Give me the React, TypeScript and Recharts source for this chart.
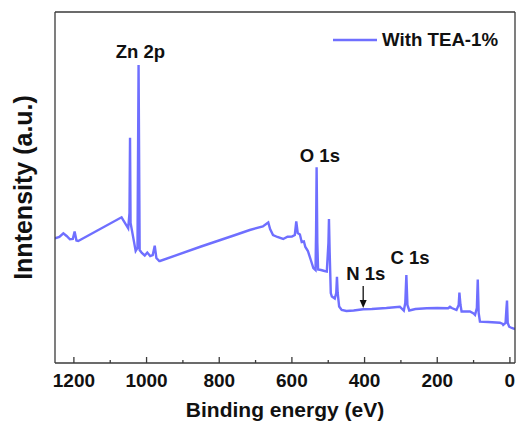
import React from 'react';
import { LineChart, Line, XAxis, YAxis, Legend, ReferenceDot } from 'recharts';

// Binding energy (eV) and intensity (a.u.)
const energy = [
  1252, 1240, 1229, 1220, 1211, 1203, 1198, 1193, 1188, 1068.8, 1050.6, 1047, 1045.5, 1044,
  1030, 1025, 1022, 1019, 1013, 1005, 998, 990, 983, 977.5, 973, 965, 963, 850, 760, 716,
  680, 668, 665, 660, 652, 640, 624, 612, 600, 592, 588, 584, 578, 573, 567, 563, 556, 548,
  541, 535, 533.5, 532, 530, 528, 520, 510, 504, 499.5, 498, 496, 493, 490, 482, 478, 476,
  474, 470, 463, 450, 430, 404, 380, 340, 303, 292, 288, 285, 282, 277, 260, 229, 200, 170,
  165, 160, 147, 141, 139, 136, 133, 110, 100, 96, 91, 88.5, 86, 82.5, 60, 27.5, 20, 18.4,
  12, 9.5, 8, 6, 2, -5, -14,
];
const intensity = [
  124.7, 126, 129.7, 127, 123.7, 124, 131.5, 122.5, 122, 145.7, 134.7, 150, 225.3, 140,
  112, 115, 298, 113, 110, 107.5, 110.5, 107, 108, 117.3, 105, 102, 102, 116.5, 127.5, 133,
  136.5, 139.7, 140.5, 134, 128, 126, 124, 126.3, 126.5, 128, 141.5, 130, 128.5, 121, 121.5, 116, 112, 103,
  95, 93, 130, 195.7, 120, 93.5, 93, 92, 91.5, 120, 144, 110, 70, 66.5, 64.5, 70, 86.3,
  70, 56.5, 53, 52, 52.5, 53.8, 54, 55, 56.3, 52.5, 60, 88, 58, 52.5, 54, 54.7, 55, 54.8,
  56.3, 55, 53, 58, 70.5, 58, 51.5, 51.5, 49.5, 48, 55, 83.5, 50, 41.3, 41, 40.3, 39, 38,
  40, 55, 62.5, 40, 36.3, 35, 34,
];

const majorTicks = [1200, 1000, 800, 600, 400, 200, 0];
const minorTicks = [1100, 900, 700, 500, 300, 100];
const allTicks = [...majorTicks, ...minorTicks].sort((a, b) => b - a);

const annotations = [
  { text: 'Zn 2p', energy: 1017, intensity: 304.7 },
  { text: 'O 1s', energy: 523, intensity: 201.3 },
  { text: 'N 1s', energy: 396.4, intensity: 83 },
  { text: 'C 1s', energy: 275, intensity: 99 },
];
const arrowTip = { energy: 403.8, intensity: 55 };

const seriesName = 'With TEA-1%';
const xLabel = 'Binding energy (eV)';
const yLabel = 'Inntensity (a.u.)';

const xDomain = [-14, 1252];
const yDomain = [0, 351];

const data = energy.map((e, i) => ({ energy: e, intensity: intensity[i] }));

const FONT = '"Liberation Sans", Arial, Helvetica, sans-serif';
const LINE_COLOR = '#6f6fff';
const FRAME = '#3a3a3a';

const AxisTick = (props: any) => {
  const { x, y, payload } = props;
  const major = majorTicks.includes(payload.value);
  if (!major) return <g />;
  return (
    <text x={x} y={y + 24} textAnchor="middle" fontSize={19} fontWeight="bold" fill="#111" fontFamily={FONT}>
      {payload.value}
    </text>
  );
};

const LegendContent = () => (
  <div style={{ display: 'flex', alignItems: 'center', fontFamily: FONT, fontWeight: 'bold', fontSize: 18.7, color: '#111', whiteSpace: 'nowrap' }}>
    <svg width={49} height={6}>
      <line x1={0} x2={44} y1={3} y2={3} stroke={LINE_COLOR} strokeWidth={2.4} />
    </svg>
    <span>{seriesName}</span>
  </div>
);

export default function App() {
  return (
    <div style={{ position: 'absolute', left: 0, top: 0, background: '#fff' }}>
      <LineChart width={518} height={426} data={data} margin={{ top: 11, right: 2, left: 54, bottom: 0 }}>
        <XAxis
          dataKey="energy"
          type="number"
          domain={xDomain}
          allowDataOverflow
          reversed
          ticks={allTicks}
          interval={0}
          tick={<AxisTick />}
          tickLine={false}
          tickSize={0}
          tickMargin={0}
          height={63}
          axisLine={{ stroke: FRAME, strokeWidth: 1.3 }}
          label={{
            content: (p: any) => {
              const vb = p.viewBox;
              return (
                <text x={vb.x + vb.width / 2} y={vb.y + 54} textAnchor="middle" fontSize={21} fontWeight="bold" fill="#111" fontFamily={FONT}>
                  {xLabel}
                </text>
              );
            },
          }}
        />
        <XAxis
          xAxisId="top"
          orientation="top"
          dataKey="energy"
          type="number"
          domain={xDomain}
          allowDataOverflow
          reversed
          height={1}
          tick={false}
          tickLine={false}
          axisLine={{ stroke: FRAME, strokeWidth: 1.3 }}
        />
        <YAxis
          type="number"
          domain={yDomain}
          allowDataOverflow
          width={1}
          tick={false}
          tickLine={false}
          axisLine={{ stroke: FRAME, strokeWidth: 1.3 }}
          label={{
            content: (p: any) => {
              const vb = p.viewBox;
              const cx = vb.x + vb.width - 32;
              const cy = vb.y + vb.height / 2;
              return (
                <text
                  transform={`translate(${cx},${cy}) rotate(-90)`}
                  textAnchor="middle"
                  dominantBaseline="central"
                  fontSize={25}
                  fontWeight="bold"
                  fill="#111"
                  fontFamily={FONT}
                >
                  {yLabel}
                </text>
              );
            },
          }}
        />
        <YAxis
          yAxisId="right"
          orientation="right"
          type="number"
          domain={yDomain}
          allowDataOverflow
          width={1}
          tick={false}
          tickLine={false}
          axisLine={{ stroke: FRAME, strokeWidth: 1.3 }}
        />
        <Legend
          layout="horizontal"
          verticalAlign="middle"
          align="center"
          content={<LegendContent />}
          wrapperStyle={{ position: 'absolute', top: 29, left: 333, width: 'auto' }}
        />
        <Line
          type="linear"
          dataKey="intensity"
          name={seriesName}
          stroke={LINE_COLOR}
          strokeWidth={2.4}
          dot={false}
          isAnimationActive={false}
        />
        {allTicks.map((t) => (
          <ReferenceDot
            key={`tick-${t}`}
            x={t}
            y={yDomain[0]}
            r={0}
            ifOverflow="visible"
            shape={(p: any) => (
              <line
                x1={p.cx}
                x2={p.cx}
                y1={p.cy}
                y2={p.cy - (majorTicks.includes(t) ? 6 : 3)}
                stroke={FRAME}
                strokeWidth={1.3}
              />
            )}
          />
        ))}
        {annotations.map((a) => (
          <ReferenceDot
            key={a.text}
            x={a.energy}
            y={a.intensity}
            r={0}
            shape={(p: any) => (
              <text x={p.cx} y={p.cy} textAnchor="middle" fontSize={18.5} fontWeight="bold" fill="#111" fontFamily={FONT}>
                {a.text}
              </text>
            )}
          />
        ))}
        <ReferenceDot
          x={arrowTip.energy}
          y={arrowTip.intensity}
          r={0}
          shape={(p: any) => (
            <g>
              <line x1={p.cx} x2={p.cx} y1={p.cy - 22} y2={p.cy - 5} stroke="#111" strokeWidth={1.3} />
              <polygon points={`${p.cx - 3.5},${p.cy - 8} ${p.cx + 3.5},${p.cy - 8} ${p.cx},${p.cy}`} fill="#111" />
            </g>
          )}
        />
      </LineChart>
    </div>
  );
}
